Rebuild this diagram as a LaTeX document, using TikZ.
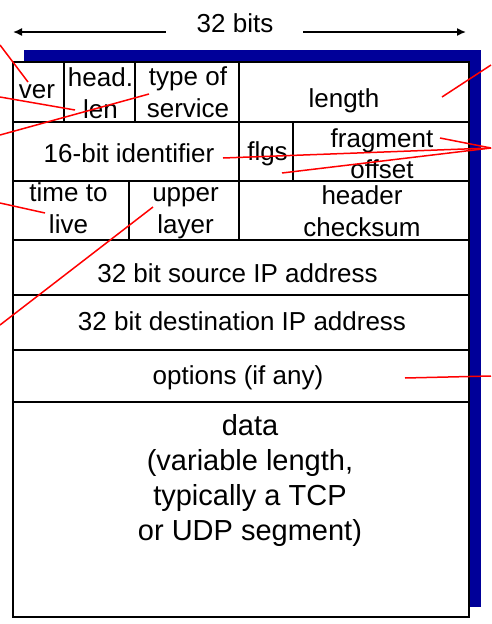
\documentclass[tikz,border=0pt]{standalone}
\usepackage{fontspec}
\setmainfont{Liberation Sans}
\usepackage{tikz}
\usetikzlibrary{arrows,arrows.meta}
\definecolor{shadowblue}{RGB}{0,0,153}

\begin{document}
\begin{tikzpicture}[x=1pt,y=-1pt,>={Latex[length=9pt,width=8pt]},line width=1.8pt,font=\fontsize{26}{32}\selectfont]
 \tikzstyle{field}=[align=center,inner sep=0pt]
 \tikzstyle{pointer}=[red,line width=1.5pt]

   \useasboundingbox (0,0) rectangle (491,624);

   \fill[shadowblue] (24,50) rectangle (481,607);
   \draw[fill=white] (13,62) rectangle (469,617);
   \foreach \y in {122,181,240,295,350,402}
     \draw (13,\y) -- (469,\y);
   \draw (64,62) -- (64,122) (135,62) -- (135,122) (239,62) -- (239,240)
         (293,122) -- (293,181) (129,181) -- (129,240);

   \node[inner sep=0pt] (bits) at (235,23) {32 bits};
   \coordinate (wl) at (13,32);
   \coordinate (wr) at (466,32);
   \draw[->,line width=1.5pt] ([xshift=-30pt]bits.west |- wl) -- (wl);
   \draw[->,line width=1.5pt] ([xshift=29pt]bits.east |- wr) -- (wr);

   \node[field] (ver) at (37,92) {ver};
   \node[field] (hlen) at (100.5,93) {head.\\len};
   \node[field] (tos) at (188,92) {type of\\service};
   \node[field] (length) at (344,101) {length};
   \node[field] (ident) at (129,153.5) {16-bit identifier};
   \node[field] (flgs) at (267.5,153.5) {flgs};
   \node[field,font=\fontsize{26}{31}\selectfont] (frag) at (382,154) {fragment\\offset};
   \node[field] (ttl) at (68.5,208) {time to\\live};
   \node[field] (upper) at (185.5,213) {upper\\layer};
   \node[field] (csum) at (362,211.5) {header\\checksum};
   \node[field] (src) at (237.5,273) {32 bit source IP address};
   \node[field] (dst) at (242,321) {32 bit destination IP address};
   \node[field] (opt) at (238,378) {options (if any)};
   \node[field,font=\fontsize{29}{35}\selectfont] (data) at (250,480)
     {data\\(variable length,\\typically a TCP\\or UDP segment)};

   \coordinate (ver-out) at (0,45);      \coordinate (ver-in) at (28,82);
   \coordinate (hlen-out) at (0,97);     \coordinate (hlen-in) at (75,110);
   \coordinate (tos-out) at (0,135);     \coordinate (tos-in) at (149,94);
   \coordinate (length-out) at (491,65); \coordinate (length-in) at (442,97);
   \coordinate (frag-out) at (491,148);  \coordinate (frag-in) at (440,138);
   \coordinate (ident-in) at (223,158);  \coordinate (flgs-in) at (282,173);
   \coordinate (ttl-out) at (0,203);     \coordinate (ttl-in) at (45,213);
   \coordinate (upper-out) at (0,325);   \coordinate (upper-in) at (153,207);
   \coordinate (opt-out) at (491,376);   \coordinate (opt-in) at (405,378);

   \path[pointer]
   (ver-out) edge (ver-in)
   (hlen-out) edge (hlen-in)
   (tos-out) edge (tos-in)
   (length-out) edge (length-in)
   (frag-out) edge (frag-in)
   (frag-out) edge (ident-in)
   (frag-out) edge (flgs-in)
   (ttl-out) edge (ttl-in)
   (upper-out) edge (upper-in)
   (opt-out) edge (opt-in);

\end{tikzpicture}
\end{document}
